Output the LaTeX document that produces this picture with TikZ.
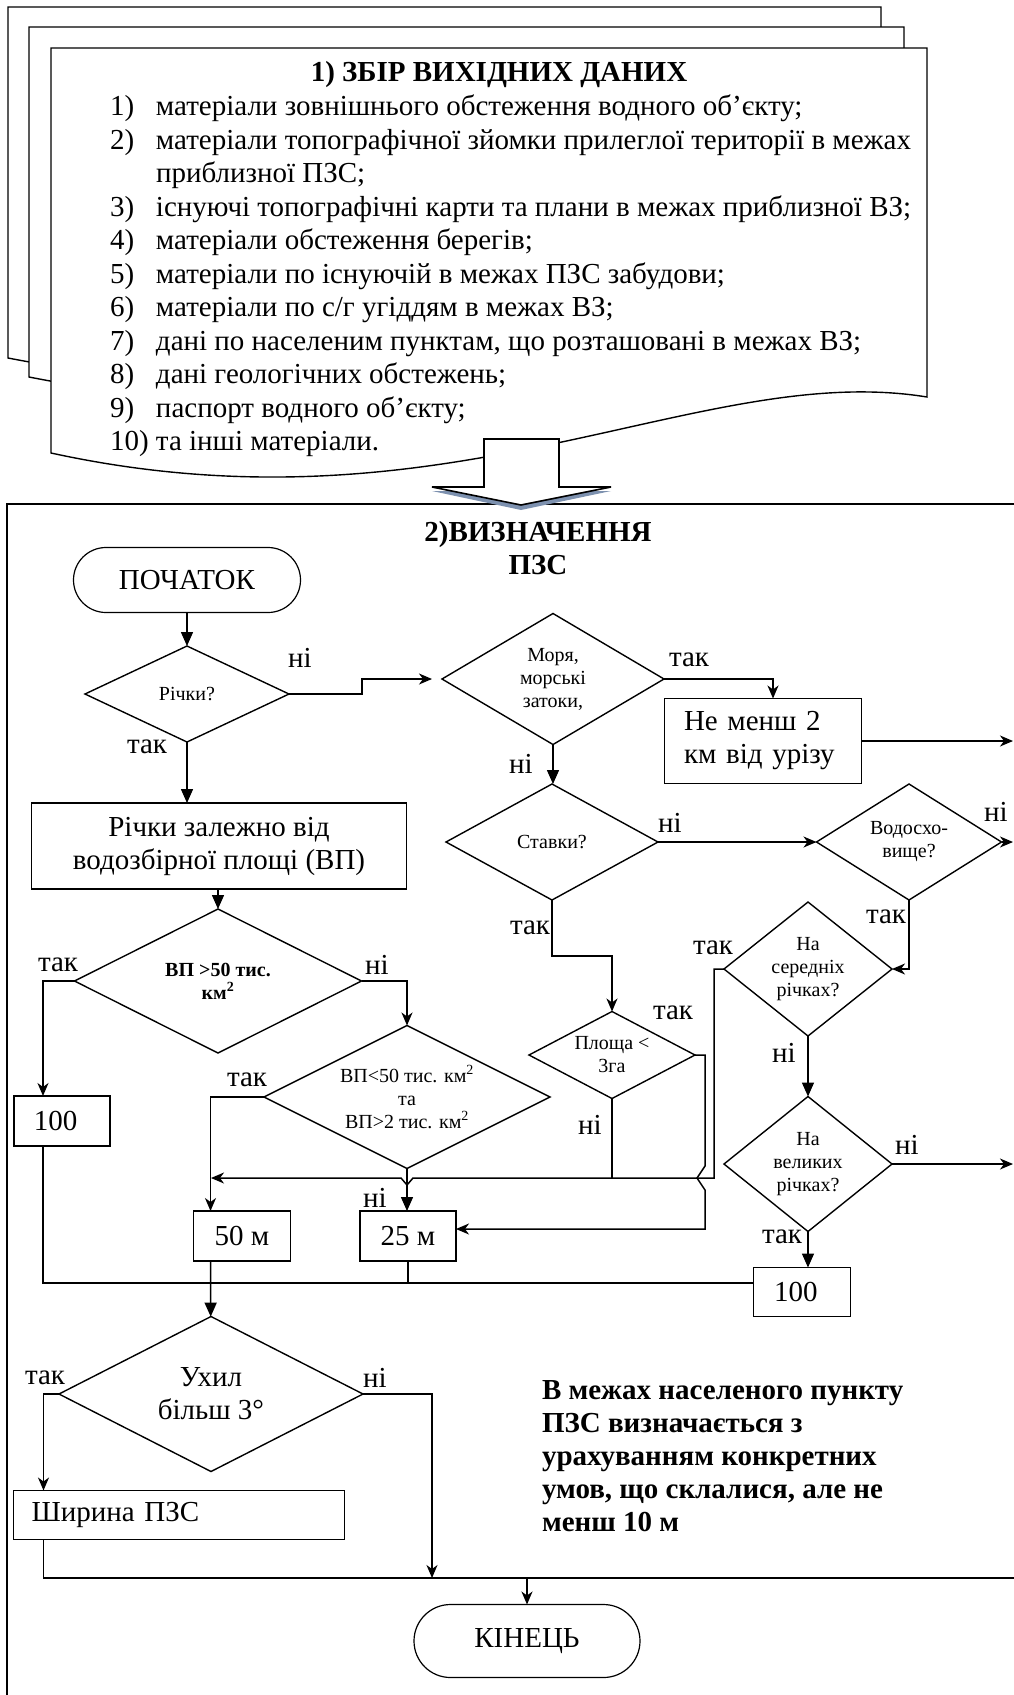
\documentclass[tikz,border=0pt]{standalone}
\usepackage{fontspec}
\setmainfont{Liberation Serif}
\usetikzlibrary{shapes.geometric,shapes.misc,arrows.meta}
\definecolor{arrowshadow}{RGB}{125,145,175}

\begin{document}
\begin{tikzpicture}[x=1pt, y=-1pt,
  every node/.style={inner sep=0pt, outer sep=0pt},
  txtbig/.style={font=\fontsize{29}{33}\selectfont},
  txtsmall/.style={font=\fontsize{20}{23}\selectfont},
  txtbold/.style={font=\fontsize{29}{33}\selectfont\bfseries},
  decision/.style={diamond, draw, line width=1.4pt, txtsmall, align=center},
  process/.style={rectangle, draw, line width=1.4pt, txtbig, align=center},
  terminal/.style={rounded rectangle, draw, line width=1.2pt, txtbig},
  itm/.style={txtbig, anchor=west, text height=20pt, text depth=7pt},
  lbl/.style={txtbig},
  conn/.style={line width=1.5pt},
  arr/.style={line width=1.5pt, -{Stealth[length=13pt,width=11pt,inset=4pt]}},
  arrt/.style={line width=1.5pt, -{Triangle[length=14pt,width=12pt]}},
  sheet/.style={draw, line width=1.4pt, fill=white}]
  \useasboundingbox (0,0) rectangle (1014,1695);
  \clip (0,0) rectangle (1014,1695);

  \draw[sheet] (8,7) -- (881,7) -- (881,318) .. controls (660,288) and (420,438) .. (8,358) -- cycle;
  \draw[sheet] (29,27) -- (904,27) -- (904,338) .. controls (680,308) and (440,458) .. (29,377) -- cycle;
  \draw[sheet] (51,48) -- (927,48) -- (927,397) .. controls (700,360) and (450,540) .. (51,453) -- cycle;

  \node[txtbold] (head1) at (499,75) {1) ЗБІР ВИХІДНИХ ДАНИХ};
  \node[itm] (i1) at (110,109) {\makebox[46pt][l]{1)}матеріали зовнішнього обстеження водного об’єкту;};
  \node[itm] (i2) at (110,142.5) {\makebox[46pt][l]{2)}матеріали топографічної зйомки прилеглої території в межах};
  \node[itm] (i2b) at (156,176) {приблизної ПЗС;};
  \node[itm] (i3) at (110,209.5) {\makebox[46pt][l]{3)}існуючі топографічні карти та плани в межах приблизної ВЗ;};
  \node[itm] (i4) at (110,243) {\makebox[46pt][l]{4)}матеріали обстеження берегів;};
  \node[itm] (i5) at (110,276.5) {\makebox[46pt][l]{5)}матеріали по існуючій в межах ПЗС забудови;};
  \node[itm] (i6) at (110,310) {\makebox[46pt][l]{6)}матеріали по с/г угіддям в межах ВЗ;};
  \node[itm] (i7) at (110,343.5) {\makebox[46pt][l]{7)}дані по населеним пунктам, що розташовані в межах ВЗ;};
  \node[itm] (i8) at (110,377) {\makebox[46pt][l]{8)}дані геологічних обстежень;};
  \node[itm] (i9) at (110,410.5) {\makebox[46pt][l]{9)}паспорт водного об’єкту;};
  \node[itm] (i10) at (110,444) {\makebox[46pt][l]{10)}та інші матеріали.};

  \draw[line width=1.4pt] (7,1720) -- (7,504) -- (1030,504);
  \fill[arrowshadow] (484,443) -- (559,443) -- (559,491) -- (611,491) -- (521,510) -- (432,491) -- (484,491) -- cycle;
  \draw[line width=1.6pt, fill=white] (484,439) -- (559,439) -- (559,487) -- (611,487) -- (521,505) -- (432,487) -- (484,487) -- cycle;

  \node[txtbold, align=center] (head2) at (538,548) {2)ВИЗНАЧЕННЯ\\ПЗС};

  \node[terminal, minimum width=227pt, minimum height=65pt] (start) at (187,580) {ПОЧАТОК};
  \node[decision, minimum width=204pt, minimum height=96pt, aspect=2.1] (riv) at (187,694) {Річки?};
  \node[process, minimum width=375pt, minimum height=86pt] (basin) at (219,846) {Річки залежно від\\водозбірної площі (ВП)};
  \node[decision, minimum width=287pt, minimum height=144pt, aspect=2, font=\fontsize{20}{23}\selectfont\bfseries] (gt50) at (218,981) {ВП >50 тис.\\км\textsuperscript{2}};
  \node[decision, minimum width=286pt, minimum height=143pt, aspect=2] (lt50) at (407,1097) {ВП<50 тис. км\textsuperscript{2}\\та\\ВП>2 тис. км\textsuperscript{2}};
  \node[process, minimum width=96pt, minimum height=50pt, text width=56pt, align=left] (hund1) at (62,1121) {100};
  \node[process, minimum width=97pt, minimum height=50pt] (fifty) at (242,1236) {50 м};
  \node[process, minimum width=96pt, minimum height=50pt] (twfive) at (408,1236) {25 м};
  \node[decision, minimum width=222pt, minimum height=131pt, aspect=1.7] (sea) at (553,679) {Моря,\\морські\\затоки,};
  \node[process, minimum width=197pt, minimum height=85pt, text width=158pt, align=left] (coast) at (763,741) {Не менш 2\\км від урізу};
  \node[decision, minimum width=212pt, minimum height=116pt, aspect=1.8] (ponds) at (552,842) {Ставки?};
  \node[decision, minimum width=185pt, minimum height=116pt, aspect=1.6] (resv) at (909,842) {Водосхо-\\вище?};
  \node[decision, minimum width=166pt, minimum height=87pt, aspect=1.9] (area) at (612,1055) {Площа <\\3га};
  \node[decision, minimum width=168pt, minimum height=134pt, aspect=1.25] (medr) at (808,969) {На\\середніх\\річках?};
  \node[decision, minimum width=168pt, minimum height=135pt, aspect=1.25] (bigr) at (808,1164) {На\\великих\\річках?};
  \node[process, minimum width=97pt, minimum height=49pt, text width=56pt, align=left] (hund2) at (802,1292) {100};
  \node[decision, minimum width=304pt, minimum height=155pt, aspect=2, txtbig] (slope) at (211,1394) {Ухил\\більш 3°};
  \node[process, minimum width=331pt, minimum height=49pt, text width=295pt, align=left] (wid) at (179,1515) {Ширина ПЗС};
  \node[terminal, minimum width=226pt, minimum height=73pt] (fin) at (527,1641) {КІНЕЦЬ};
  \node[txtbold, align=left, anchor=west] (note) at (542,1456) {В межах населеного пункту\\ПЗС визначається з\\урахуванням конкретних\\умов, що склалися, але не\\менш 10 м};

  \coordinate (out1) at (1013,741);
  \coordinate (out2) at (1013,842);
  \coordinate (out3) at (1013,1164);
  \coordinate (jn) at (211,1178);
  \coordinate (bus) at (43,1283);
  \coordinate (low) at (432,1578);
  \coordinate (rim) at (1014,1578);

  \draw[arrt] (start) -- (riv);
  \draw[arr] (riv.east) -| (362,679) -- ([xshift=-10pt]sea.west);
  \draw[arrt] (riv.south) -- (riv.south |- basin.north);
  \draw[arrt] (gt50.north |- basin.south) -- (gt50);
  \draw[arr] (gt50.west) -| ([xshift=29pt]hund1.north west);
  \draw[arr] (gt50.east) -| (lt50.north);
  \draw[arr] (lt50.west) -| ([xshift=17pt]fifty.north west);
  \draw[arrt] (lt50.south) -- (lt50.south |- twfive.north);
  \draw[arr] (sea.east) -| ([xshift=10pt]coast.north);
  \draw[arrt] (sea.south) -- (sea.south |- ponds.north);
  \draw[arr] (coast.east) -- (out1);
  \draw[arr] (ponds) -- (resv);
  \draw[arr] (resv) -- (out2);
  \draw[arr] (ponds.south) -- ++(0,56) -| (area.north);
  \draw[arr] (resv.south) |- (medr.east);
  \draw[arrt] (medr) -- (bigr);
  \draw[arr] (bigr) -- (out3);
  \draw[arrt] (bigr.south) -- (bigr.south |- hund2.north);
  \draw[arr] (medr.west) -- (714,969) -- (714,1178) -- (413,1178) -- (407,1185) -- (401,1178) -- (jn);
  \draw[conn] (area.south) -- (area.south |- jn);
  \draw[arr] (area.east) -- (705,1055) -- (705,1166) -- (697,1178) -- (705,1190) -- (705,1229) -- ([yshift=7pt]twfive.east);
  \draw[conn] ([xshift=29pt]hund1.south west) |- ([yshift=9pt]hund2.west);
  \draw[conn] (twfive.south) -- (twfive.south |- bus);
  \draw[arrt] ([xshift=17pt]fifty.south west) -- (slope);
  \draw[arr] (slope.west) -| ([xshift=30pt]wid.north west);
  \draw[arr] (slope.east) -| (low);
  \draw[conn] ([xshift=30pt]wid.south west) |- (rim);
  \draw[arr] (fin.north |- low) -- (fin);

  \node[lbl] (n1) at (300,658) {ні};
  \node[lbl] (y1) at (147,747) {так};
  \node[lbl] (y2) at (689,660) {так};
  \node[lbl] (n2) at (521,764) {ні};
  \node[lbl] (n3) at (670,823) {ні};
  \node[lbl] (n4) at (996,812) {ні};
  \node[lbl] (y3) at (530,928) {так};
  \node[lbl] (y4) at (886,917) {так};
  \node[lbl] (y5) at (58,965) {так};
  \node[lbl] (n5) at (377,965) {ні};
  \node[lbl] (y6) at (673,1013) {так};
  \node[lbl] (y7) at (713,948) {так};
  \node[lbl] (y8) at (247,1080) {так};
  \node[lbl] (n6) at (590,1125) {ні};
  \node[lbl] (n7) at (784,1053) {ні};
  \node[lbl] (n8) at (907,1145) {ні};
  \node[lbl] (n9) at (375,1198) {ні};
  \node[lbl] (y9) at (782,1237) {так};
  \node[lbl] (y10) at (45,1378) {так};
  \node[lbl] (n10) at (375,1378) {ні};
\end{tikzpicture}
\end{document}
